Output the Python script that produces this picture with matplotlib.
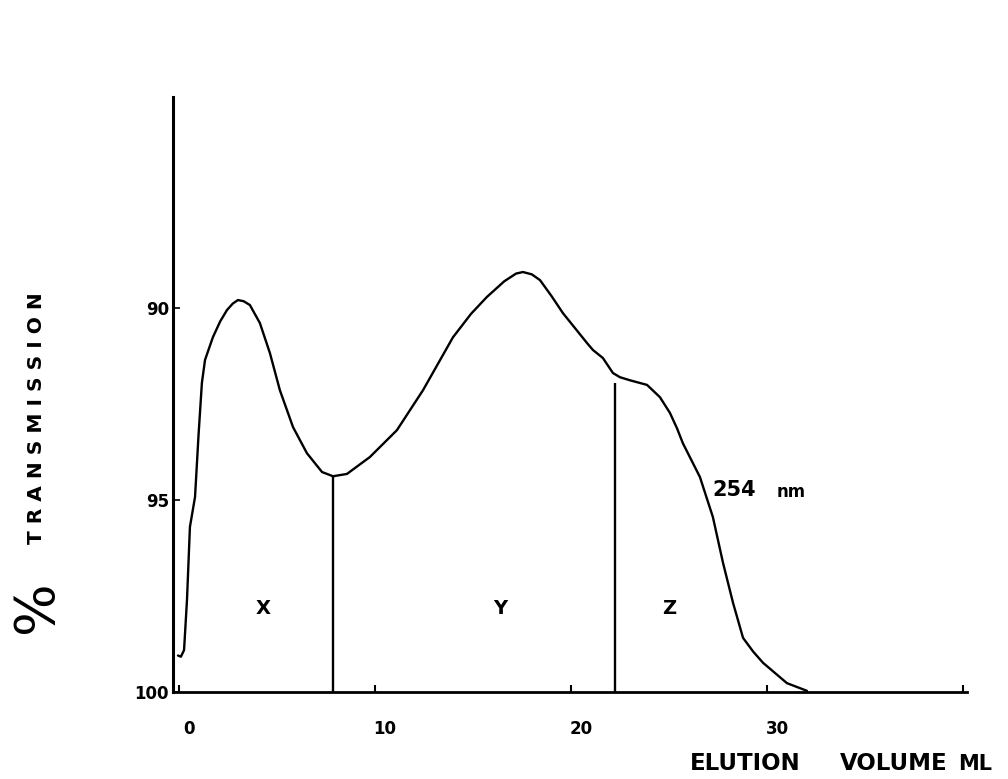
import matplotlib.pyplot as plt
from matplotlib.transforms import ScaledTranslation

# elution profile at 254 nm (volume in ml, % transmission)
volume = [-0.05, 0.1, 0.26, 0.41, 0.56, 0.82, 1.0, 1.17, 1.33, 1.73, 2.1, 2.45,
          2.75, 3.01, 3.3, 3.62, 4.13, 4.64, 5.15, 5.82, 6.53, 7.3, 7.86,
          8.57, 9.74, 11.12, 12.45, 13.98, 14.9, 15.71, 16.6, 17.2, 17.55,
          18.0, 18.42, 19.0, 19.59, 20.82, 21.12, 21.63, 22.14, 22.5, 23.01,
          23.88, 24.54, 25.05, 25.41, 25.71, 26.58, 27.24, 27.76, 28.27,
          28.78, 29.3, 29.8, 31.02, 32.04]
transmission = [99.05, 99.08, 98.91, 97.6, 95.7, 94.92, 93.3, 91.95, 91.35,
                90.76, 90.35, 90.05, 89.88, 89.79, 89.82, 89.92, 90.39, 91.17,
                92.14, 93.10, 93.78, 94.27, 94.38, 94.32, 93.88, 93.18, 92.14,
                90.76, 90.15, 89.71, 89.3, 89.1, 89.06, 89.12, 89.27, 89.68,
                90.13, 90.91, 91.09, 91.30, 91.69, 91.80, 91.88, 92.0, 92.32,
                92.73, 93.13, 93.52, 94.40, 95.44, 96.64, 97.68, 98.59, 98.95,
                99.24, 99.77, 99.97]

# fraction cut points and their labels
cut_volume = [7.86, 22.24]
cut_top = [94.4, 91.95]
fraction_names = ["X", "Y", "Z"]
fraction_pos = [4.3, 16.4, 25.0]
fraction_level = [97.82, 97.82, 97.82]

x_ticks = [0, 10, 20, 30, 40]
x_ticklabels = ["0", "10", "20", "30", ""]
y_ticks = [90, 95, 100]
y_ticklabels = ["90", "95", "100"]

fig = plt.figure(figsize=(10.08, 7.79), dpi=100)
ax = fig.add_axes([0.1717, 0.1117, 0.7875, 0.7638])

ax.plot(volume, transmission, color="black", lw=1.7,
        solid_joinstyle="round", solid_capstyle="round")
ax.vlines(cut_volume, cut_top, 100, color="black", lw=1.7)

for name, xv, yv in zip(fraction_names, fraction_pos, fraction_level):
    ax.text(xv, yv, name, ha="center", va="center", fontsize=14, fontweight="bold")

ax.text(27.2, 94.75, "254", ha="left", va="center", fontsize=15, fontweight="bold")
ax.text(30.5, 94.8, "nm", ha="left", va="center", fontsize=12, fontweight="bold")

ax.set_xlim(-0.3, 40.2)
ax.set_ylim(100, 84.5)

for side in ["top", "right"]:
    ax.spines[side].set_visible(False)
ax.spines["left"].set_linewidth(2.2)
ax.spines["bottom"].set_linewidth(2.0)

ax.set_xticks(x_ticks)
ax.set_xticklabels(x_ticklabels, fontsize=12, fontweight="bold")
ax.set_yticks(y_ticks)
ax.set_yticklabels(y_ticklabels, fontsize=12, fontweight="bold")
ax.tick_params(axis="x", direction="in", length=5, width=1.5, pad=20)
ax.tick_params(axis="y", direction="in", length=5, width=1.2, pad=3)

shift = ScaledTranslation(0.1, 0, fig.dpi_scale_trans)
for lbl in ax.get_xticklabels():
    lbl.set_transform(lbl.get_transform() + shift)

fig.text(37 / 1008, 1 - 418 / 779, "T R A N S M I S S I O N", rotation=90,
         ha="center", va="center", fontsize=14.5, fontweight="bold")
fig.text(37 / 1008, 1 - 607 / 779, "%", rotation=90,
         ha="center", va="center", fontsize=40)

fig.text(690 / 1008, 1 - 764 / 779, "ELUTION", ha="left", va="center",
         fontsize=16.5, fontweight="bold")
fig.text(840 / 1008, 1 - 764 / 779, "VOLUME", ha="left", va="center",
         fontsize=16.5, fontweight="bold")
fig.text(958 / 1008, 1 - 764 / 779, "ML", ha="left", va="center",
         fontsize=15, fontweight="bold")

fig.savefig("out.png", dpi=100)
